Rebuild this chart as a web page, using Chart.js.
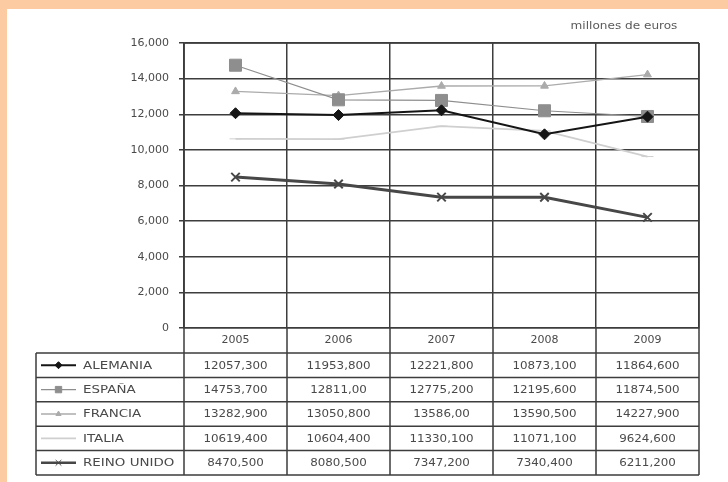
<!DOCTYPE html>
<html>
<head>
<meta charset="utf-8">
<script src="https://cdn.jsdelivr.net/npm/chart.js@4.4.1/dist/chart.umd.min.js"></script>
<style>
  html, body { margin: 0; padding: 0; background: #fdcba1; }
  #wrap { position: absolute; left: 7px; top: 9px; width: 721px; height: 473px; background: #fff; }
</style>
</head>
<body>
<div id="wrap"><canvas id="chart" width="721" height="473"></canvas></div>
<script>
// values as printed in the table (comma = decimal)
const years = ['2005', '2006', '2007', '2008', '2009'];
const alemania   = ['12057,300', '11953,800', '12221,800', '10873,100', '11864,600'];
const espana     = ['14753,700', '12811,00',  '12775,200', '12195,600', '11874,500'];
const francia    = ['13282,900', '13050,800', '13586,00',  '13590,500', '14227,900'];
const italia     = ['10619,400', '10604,400', '11330,100', '11071,100', '9624,600'];
const reinoUnido = ['8470,500',  '8080,500',  '7347,200',  '7340,400',  '6211,200'];
const unidad = 'millones de euros';

const num = s => parseFloat(s.replace(',', '.'));

const FONT = '"DejaVu Sans", "Liberation Sans", Arial, sans-serif';
const GRID = '#3d3d3d';
const TXT = '#4a4a4a';

const series = [
  {label: 'ALEMANIA', text: alemania, color: '#151515', width: 2, style: 'rectRot', r: 5.5, lr: 3.5},
  {label: 'ESPAÑA', text: espana, color: '#8e8e8e', width: 1.2, style: 'rect', r: 8.5, lr: 4.5},
  {label: 'FRANCIA', text: francia, color: '#ababab', width: 1.3, style: 'triangle', r: 4.5, lr: 3},
  {label: 'ITALIA', text: italia, color: '#cfcfcf', width: 1.8, style: 'line', r: 6, lr: 0},
  {label: 'REINO UNIDO', text: reinoUnido, color: '#474747', width: 3, style: 'crossRot', r: 6, lr: 4}
];

function stretchText(ctx, txt, x, y, sx, align) {
  ctx.save();
  ctx.translate(x, y);
  ctx.scale(sx, 1);
  ctx.textAlign = align;
  ctx.fillText(txt, 0, 0);
  ctx.restore();
}

const tablePlugin = {
  id: 'dataTable',
  afterDraw(chart) {
    const {ctx, chartArea: a, scales: {x}} = chart;
    const headH = 25;
    const bottom = x.bottom;
    const rowH = (bottom - a.bottom - headH) / series.length;
    const left = 29;

    ctx.save();
    ctx.strokeStyle = GRID;
    ctx.lineWidth = 1.5;
    ctx.beginPath();
    // horizontal rules of the table
    for (let i = 0; i <= series.length; i++) {
      const y = a.bottom + headH + i * rowH;
      ctx.moveTo(left, y); ctx.lineTo(a.right, y);
    }
    ctx.moveTo(a.left, a.top); ctx.lineTo(a.right, a.top);
    // verticals
    ctx.moveTo(left, a.bottom + headH); ctx.lineTo(left, bottom);
    ctx.moveTo(a.left, a.top); ctx.lineTo(a.left, bottom);
    ctx.moveTo(a.right, a.top); ctx.lineTo(a.right, bottom);
    for (let j = 0; j < years.length - 1; j++) {
      const xb = (x.getPixelForValue(j) + x.getPixelForValue(j + 1)) / 2;
      ctx.moveTo(xb, a.bottom); ctx.lineTo(xb, bottom);
    }
    ctx.stroke();

    ctx.textBaseline = 'middle';
    ctx.fillStyle = TXT;
    series.forEach((s, i) => {
      const yc = a.bottom + headH + (i + 0.5) * rowH;
      // legend sample
      ctx.strokeStyle = s.color;
      ctx.fillStyle = s.color;
      ctx.lineWidth = Math.min(s.width, 2.5);
      ctx.beginPath();
      ctx.moveTo(34, yc); ctx.lineTo(69, yc);
      ctx.stroke();
      if (s.lr > 0 && Chart.helpers && Chart.helpers.drawPoint) {
        ctx.lineWidth = 1;
        Chart.helpers.drawPoint(ctx, {pointStyle: s.style, radius: s.lr, rotation: 0, borderWidth: 1}, 51.5, yc);
      }
      ctx.fillStyle = TXT;
      ctx.font = '11px ' + FONT;
      stretchText(ctx, s.label, 76, yc + 0.5, 1.22, 'left');
      s.text.forEach((t, j) => {
        stretchText(ctx, t, x.getPixelForValue(j), yc + 0.5, 1.08, 'center');
      });
    });

    ctx.font = '10.5px ' + FONT;
    ctx.fillStyle = '#5a5a5a';
    stretchText(ctx, unidad, 617, 17, 1.15, 'center');
    ctx.restore();
  }
};

new Chart(document.getElementById('chart'), {
  type: 'line',
  data: {
    labels: years,
    datasets: series.map(s => ({
      label: s.label,
      data: s.text.map(num),
      borderColor: s.color,
      backgroundColor: s.color,
      borderWidth: s.width,
      pointStyle: s.style,
      pointRadius: s.r,
      pointBorderWidth: s.style === 'crossRot' ? 2 : 1,
      pointBorderColor: s.color,
      pointBackgroundColor: s.color,
      tension: 0
    }))
  },
  options: {
    responsive: false,
    animation: false,
    layout: {padding: {top: 34, right: 29, bottom: 7, left: 0}},
    plugins: {legend: {display: false}, tooltip: {enabled: false}},
    scales: {
      x: {
        offset: true,
        grid: {offset: true, color: GRID, lineWidth: 1.5, drawTicks: false},
        border: {color: GRID, width: 1.5},
        ticks: {padding: 6, color: TXT, font: {family: FONT, size: 11}},
        afterFit(s) { s.height = 147; }
      },
      y: {
        min: 0,
        max: 16000,
        grid: {color: GRID, lineWidth: 1.5, tickLength: 5},
        border: {color: GRID, width: 1.5},
        ticks: {
          stepSize: 2000,
          padding: 10,
          color: TXT,
          font: {family: FONT, size: 11},
          callback: v => v.toLocaleString('en-US')
        },
        afterFit(s) { s.width = 177; }
      }
    }
  },
  plugins: [tablePlugin]
});
</script>
</body>
</html>
